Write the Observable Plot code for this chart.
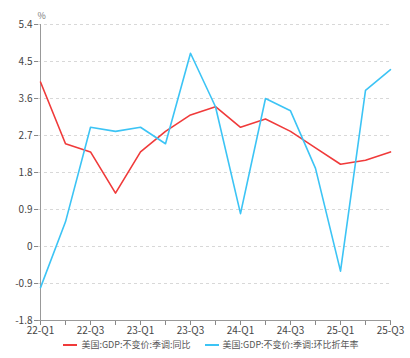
<!DOCTYPE html>
<html>
<head>
<meta charset="utf-8">
<script src="https://cdn.jsdelivr.net/npm/d3@7"></script>
<script src="https://cdn.jsdelivr.net/npm/@observablehq/plot@0.6"></script>
<style>
  body { margin: 0; background: #fff; font-family: "Noto Sans CJK SC", "Noto Sans", sans-serif; }
  #legend { display: flex; justify-content: center; gap: 14px; font-size: 9px; color: #555; margin-top: 0px; padding-left: 12px; }
  #legend span.item { display: flex; align-items: center; gap: 4px; }
  #legend span.sw { display: inline-block; width: 14px; height: 2px; }
</style>
</head>
<body>
<div id="chart"></div>
<div id="legend"></div>
<script>
const quarters = ["22-Q1","22-Q2","22-Q3","22-Q4","23-Q1","23-Q2","23-Q3","23-Q4","24-Q1","24-Q2","24-Q3","24-Q4","25-Q1","25-Q2","25-Q3"];
const yoy = [4.0, 2.5, 2.3, 1.3, 2.3, 2.8, 3.2, 3.4, 2.9, 3.1, 2.8, 2.4, 2.0, 2.1, 2.3];
const qoqAnn = [-1.0, 0.6, 2.9, 2.8, 2.9, 2.5, 4.7, 3.4, 0.8, 3.6, 3.3, 1.9, -0.6, 3.8, 4.3];
const yTicks = [-1.8, -0.9, 0, 0.9, 1.8, 2.7, 3.6, 4.5, 5.4];
const xLabels = ["22-Q1","22-Q3","23-Q1","23-Q3","24-Q1","24-Q3","25-Q1","25-Q3"];
const seriesNames = ["美国:GDP:不变价:季调:同比", "美国:GDP:不变价:季调:环比折年率"];
const colors = ["#f03a3a", "#3cc4f5"];

const rows = [];
quarters.forEach((q, i) => {
  rows.push({q, v: yoy[i], s: seriesNames[0]});
  rows.push({q, v: qoqAnn[i], s: seriesNames[1]});
});

const chart = Plot.plot({
  width: 410,
  height: 338,
  marginLeft: 38,
  marginRight: 19,
  marginTop: 24,
  marginBottom: 18,
  style: {fontFamily: "'Noto Sans CJK SC', 'Noto Sans', sans-serif", fontSize: "10px", color: "#444"},
  x: {type: "point", domain: quarters, padding: 0},
  y: {domain: [-1.8, 5.4]},
  color: {domain: seriesNames, range: colors},
  marks: [
    Plot.gridY(yTicks.filter(t => t > -1.8), {stroke: "#d8d8d8", strokeOpacity: 1, strokeDasharray: "3,3"}),
    Plot.axisY({ticks: yTicks, tickSize: 4, tickPadding: 2, label: null, tickFormat: d => String(d), stroke: "#888"}),
    Plot.ruleX([quarters[0]], {stroke: "#999"}),
    Plot.axisX({ticks: quarters, tickSize: 5, tickPadding: 1, label: null, tickFormat: d => xLabels.includes(d) ? d : "", stroke: "#888"}),
    Plot.ruleY([-1.8], {stroke: "#999"}),
    Plot.line(rows, {x: "q", y: "v", z: "s", stroke: "s", strokeWidth: 1.6}),
    Plot.text(["%"], {frameAnchor: "top-left", dy: -12, dx: -1, text: d => d, fill: "#777", fontSize: 9})
  ]
});
document.getElementById("chart").appendChild(chart);

const legend = document.getElementById("legend");
seriesNames.forEach((n, i) => {
  const it = document.createElement("span");
  it.className = "item";
  const sw = document.createElement("span");
  sw.className = "sw";
  sw.style.background = colors[i];
  const t = document.createElement("span");
  t.textContent = n;
  it.appendChild(sw); it.appendChild(t);
  legend.appendChild(it);
});
</script>
</body>
</html>
